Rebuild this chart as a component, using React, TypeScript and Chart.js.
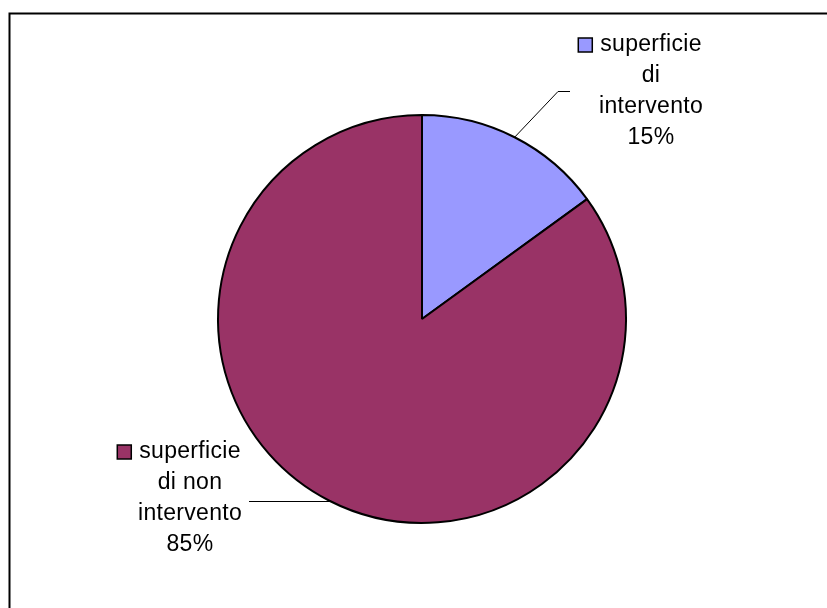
import React, { useEffect, useRef } from "react";
import { Chart, registerables } from "chart.js";

Chart.register(...registerables);

const categories = ["superficie di intervento", "superficie di non intervento"];
const values = [15, 85];
const percentLabels = ["15%", "85%"];
const labelLines = [
  ["superficie", "di", "intervento", "15%"],
  ["superficie", "di non", "intervento", "85%"],
];
const colors = ["#9999FF", "#993366"];

const FONT = '23px "Liberation Sans", Arial, sans-serif';

const overlayPlugin = {
  id: "overlay",
  afterDraw(chart: any) {
    const ctx = chart.ctx as CanvasRenderingContext2D;
    ctx.save();
    // frame
    ctx.strokeStyle = "#000";
    ctx.lineWidth = 2;
    ctx.beginPath();
    ctx.moveTo(9.5, 608);
    ctx.lineTo(9.5, 13.5);
    ctx.lineTo(827, 13.5);
    ctx.stroke();

    const meta = chart.getDatasetMeta(0);
    const arcs = meta.data;
    // leader lines
    ctx.lineWidth = 1;
    const a0 = arcs[0];
    {
      const mid = (a0.startAngle + a0.endAngle) / 2;
      const r = a0.outerRadius;
      const x0 = a0.x + Math.cos(mid) * r;
      const y0 = a0.y + Math.sin(mid) * r;
      ctx.beginPath();
      ctx.moveTo(x0, y0);
      ctx.lineTo(558, 91.5);
      ctx.lineTo(570, 91.5);
      ctx.stroke();
    }
    const a1 = arcs[1];
    {
      const yl = 501.5;
      const dy = yl - a1.y;
      const r = a1.outerRadius;
      const dx = Math.sqrt(Math.max(r * r - dy * dy, 0));
      ctx.beginPath();
      ctx.moveTo(249, yl);
      ctx.lineTo(a1.x - dx, yl);
      ctx.stroke();
    }

    // labels
    ctx.font = FONT;
    (ctx as any).letterSpacing = "0.3px";
    ctx.fillStyle = "#000";
    ctx.textAlign = "center";
    ctx.textBaseline = "middle";
    const blocks = [
      { cx: 651, y: 45, lines: labelLines[0] },
      { cx: 190, y: 452, lines: labelLines[1] },
    ];
    blocks.forEach((b, i) => {
      b.lines.forEach((t, j) => {
        ctx.fillText(t, b.cx, b.y + j * 30.8);
      });
      const w = ctx.measureText(b.lines[0]).width;
      const sx = b.cx - w / 2 - 22;
      ctx.fillStyle = colors[i];
      ctx.fillRect(sx, b.y - 7, 14, 14);
      ctx.strokeStyle = "#000";
      ctx.lineWidth = 1.5;
      ctx.strokeRect(sx, b.y - 7, 14, 14);
      ctx.fillStyle = "#000";
    });
    ctx.restore();
  },
};

export default function App() {
  const ref = useRef<HTMLCanvasElement>(null);
  useEffect(() => {
    if (!ref.current) return;
    const chart = new Chart(ref.current, {
      type: "pie",
      data: {
        labels: categories,
        datasets: [
          {
            data: values,
            backgroundColor: colors,
            borderColor: "#000",
            borderWidth: 2,
          },
        ],
      },
      options: {
        responsive: false,
        animation: false,
        layout: { padding: { top: 114, bottom: 84, left: 217, right: 200 } },
        plugins: {
          legend: { display: false },
          tooltip: { enabled: false },
        },
      },
      plugins: [overlayPlugin],
    });
    return () => chart.destroy();
  }, []);
  return (
    <div style={{ position: "fixed", left: 0, top: 0, width: 827, height: 608, background: "#fff" }}>
      <canvas ref={ref} width={827} height={608} data-labels={percentLabels.join(",")} />
    </div>
  );
}
